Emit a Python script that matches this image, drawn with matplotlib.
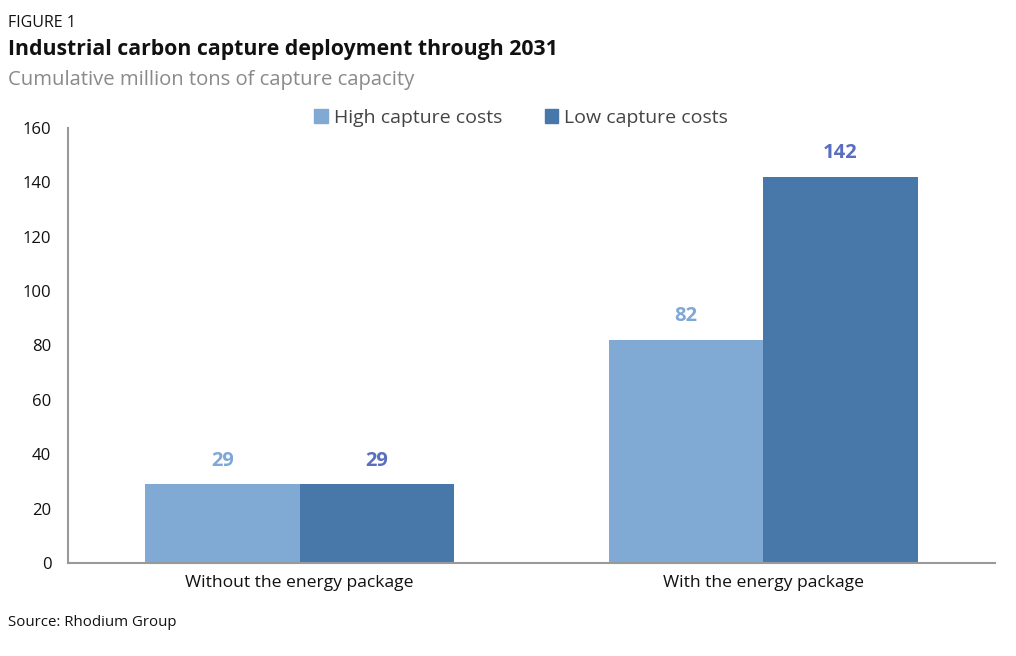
import numpy as np
import matplotlib
matplotlib.use("Agg")
import matplotlib.pyplot as plt
from matplotlib.patches import Patch

plt.rcParams['font.family'] = ['Open Sans', 'DejaVu Sans']

# data
categories = ["Without the energy package", "With the energy package"]
series_names = ["High capture costs", "Low capture costs"]
high_costs = [29, 82]
low_costs = [29, 142]
y_ticks = [0, 20, 40, 60, 80, 100, 120, 140, 160]

bar_colors = ["#80A9D3", "#4878AA"]
label_colors = ["#7FA8D8", "#5A6EC0"]

fig = plt.figure(figsize=(10.16, 6.56), dpi=100)
ax = fig.add_axes([0.0669, 0.1418, 0.9124, 0.6632])

x = np.arange(len(categories))
w = 1 / 3
for i, (vals, name) in enumerate(zip([high_costs, low_costs], series_names)):
    offs = (i - 0.5) * w
    ax.bar(x + offs, vals, width=w, color=bar_colors[i], label=name, zorder=2)
    for xi, v in zip(x, vals):
        ax.text(xi + offs, v + 5, str(v), ha="center", va="bottom",
                fontsize=14.5, fontweight="bold", color=label_colors[i])

ax.set_xlim(-0.5, 1.5)
ax.set_ylim(0, 160)
ax.set_yticks(y_ticks)
ax.set_xticks(x)
ax.set_xticklabels(categories)
ax.tick_params(axis="x", length=0, labelsize=12.6, colors="#111111", pad=9)
ax.tick_params(axis="y", length=0, labelsize=12, colors="#111111", pad=12)
for s in ["top", "right"]:
    ax.spines[s].set_visible(False)
for s in ["left", "bottom"]:
    ax.spines[s].set_color("#999999")
    ax.spines[s].set_linewidth(1.5)

handles = [Patch(color=c) for c in bar_colors]
leg = fig.legend(handles, series_names, loc="center", bbox_to_anchor=(0.513, 0.82),
                 ncol=2, frameon=False, fontsize=14, handlelength=0.7, handleheight=0.7,
                 handletextpad=0.3, columnspacing=2.2)
for t in leg.get_texts():
    t.set_color("#444444")

fig.text(0.008, 0.965, "FIGURE 1", fontsize=11.5, color="#111111", va="center")
fig.text(0.008, 0.924, "Industrial carbon capture deployment through 2031",
         fontsize=15.3, fontweight="bold", color="#111111", va="center")
fig.text(0.008, 0.878, "Cumulative million tons of capture capacity",
         fontsize=14.6, color="#8a8a8a", va="center")
fig.text(0.008, 0.051, "Source: Rhodium Group", fontsize=10.8, color="#111111", va="center")

fig.savefig("out.png", dpi=100)
